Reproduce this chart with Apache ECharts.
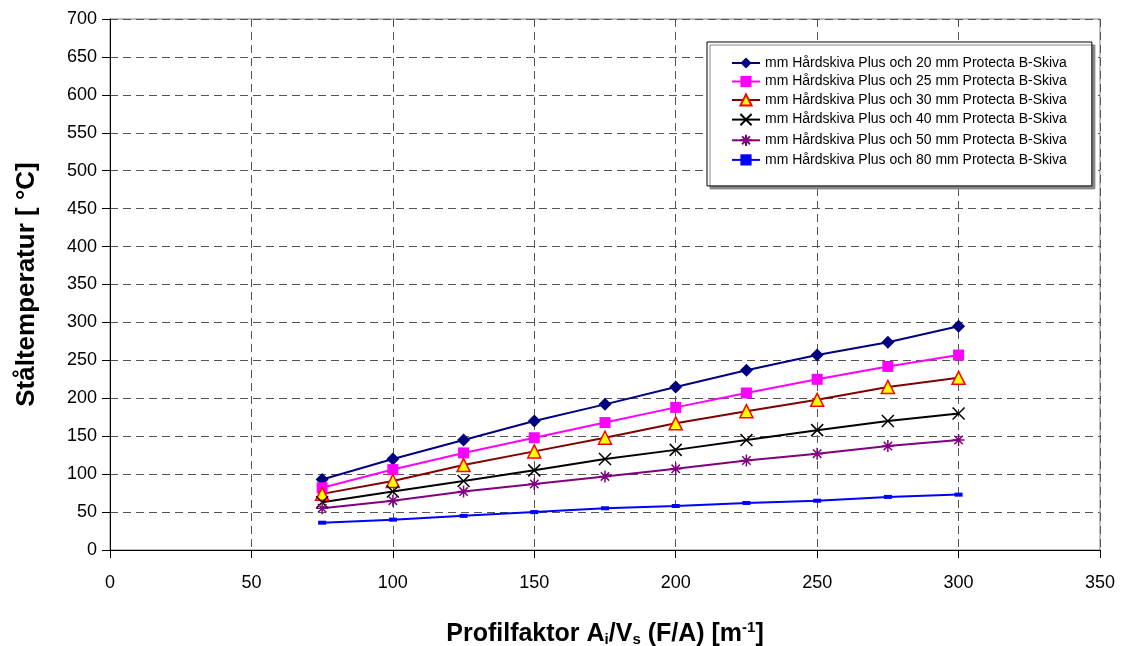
<!DOCTYPE html>
<html>
<head>
<meta charset="utf-8">
<script src="https://cdn.jsdelivr.net/npm/echarts@6/dist/echarts.min.js"></script>
<style>html,body{margin:0;padding:0;background:#fff}#c{width:1123px;height:646px}</style>
</head>
<body>
<div id="c"></div>
<script>
const xValues = [75, 100, 125, 150, 175, 200, 225, 250, 275, 300];
const names = [
  "mm Hårdskiva Plus och 20 mm Protecta B-Skiva",
  "mm Hårdskiva Plus och 25 mm Protecta B-Skiva",
  "mm Hårdskiva Plus och 30 mm Protecta B-Skiva",
  "mm Hårdskiva Plus och 40 mm Protecta B-Skiva",
  "mm Hårdskiva Plus och 50 mm Protecta B-Skiva",
  "mm Hårdskiva Plus och 80 mm Protecta B-Skiva"
];
const s20 = [93, 120, 145, 170, 192, 215, 237, 257, 274, 295];
const s25 = [82, 106, 128, 148, 168, 188, 207, 225, 242, 257];
const s30 = [74, 91, 112, 130, 148, 167, 183, 198, 215, 227];
const s40 = [63, 77, 91, 105, 120, 132, 145, 158, 170, 180];
const s50 = [55, 65, 77, 87, 97, 107, 118, 127, 137, 145];
const s80 = [36, 40, 45, 50, 55, 58, 62, 65, 70, 73];

const pair = arr => xValues.map((x, i) => [x, arr[i]]);
const FONT = 'Liberation Sans, Arial, sans-serif';

const xPath = 'path://M0,0L10,10M10,0L0,10';
const starPath = 'path://M5,0L5,10M0,5L10,5M1.5,1.5L8.5,8.5M8.5,1.5L1.5,8.5';

const chart = echarts.init(document.getElementById('c'), null, {renderer: 'canvas'});
chart.setOption({
  animation: false,
  backgroundColor: '#fff',
  textStyle: {fontFamily: FONT},
  grid: {left: 110, right: 23, top: 19, bottom: 96, show: true, borderColor: '#808080', borderWidth: 1,
         outerBoundsMode: 'none', containLabel: false},
  legend: {
    orient: 'vertical',
    left: 707, top: 42,
    padding: [14, 25, 19, 24],
    itemGap: 4.5,
    itemWidth: 28, itemHeight: 14,
    backgroundColor: '#fff',
    borderColor: '#000', borderWidth: 1,
    shadowColor: '#888', shadowOffsetX: 3, shadowOffsetY: 3, shadowBlur: 0,
    textStyle: {fontSize: 14, color: '#000', fontFamily: FONT},
    data: names
  },
  xAxis: {
    type: 'value', min: 0, max: 350, interval: 50,
    name: '{b|Profilfaktor A}{sub|i}{b|/V}{sub|s}{b| (F/A) [m}{sup|-1}{b|]}',
    nameLocation: 'middle', nameGap: 69,
    nameTextStyle: {
      rich: {
        b: {fontSize: 25, fontWeight: 'bold', color: '#000', fontFamily: FONT, lineHeight: 30},
        sub: {fontSize: 15, fontWeight: 'bold', color: '#000', fontFamily: FONT, lineHeight: 30, padding: [12, 0, 0, 0]},
        sup: {fontSize: 15, fontWeight: 'bold', color: '#000', fontFamily: FONT, lineHeight: 30, padding: [0, 0, 12, 0]}
      }
    },
    axisLine: {lineStyle: {color: '#000', width: 1}},
    axisTick: {inside: false, length: 8, lineStyle: {color: '#000'}},
    axisLabel: {fontSize: 18, color: '#000', margin: 24, fontFamily: FONT},
    splitLine: {show: true, lineStyle: {color: '#555', type: [8, 5], width: 1}}
  },
  yAxis: {
    type: 'value', min: 0, max: 700, interval: 50,
    name: 'Ståltemperatur [ °C]',
    nameLocation: 'middle', nameGap: 70, nameRotate: 90,
    nameTextStyle: {fontSize: 26, fontWeight: 'bold', color: '#000', fontFamily: FONT},
    axisLine: {show: true, lineStyle: {color: '#000', width: 1}},
    axisTick: {show: true, inside: false, length: 8, lineStyle: {color: '#000'}},
    axisLabel: {fontSize: 18, color: '#000', margin: 13, fontFamily: FONT},
    splitLine: {show: true, lineStyle: {color: '#555', type: [8, 5], width: 1}}
  },
  series: [
    {name: names[0], type: 'line', data: pair(s20), symbol: 'diamond', symbolSize: 13,
     lineStyle: {color: '#000080', width: 2}, itemStyle: {color: '#000080'}},
    {name: names[1], type: 'line', data: pair(s25), symbol: 'rect', symbolSize: 11,
     lineStyle: {color: '#FF00FF', width: 2}, itemStyle: {color: '#FF00FF'}},
    {name: names[2], type: 'line', data: pair(s30), symbol: 'triangle', symbolSize: 13,
     lineStyle: {color: '#800000', width: 2}, itemStyle: {color: '#FFFF00', borderColor: '#FF0000', borderWidth: 1.5}},
    {name: names[3], type: 'line', data: pair(s40), symbol: xPath, symbolSize: 12,
     lineStyle: {color: '#000000', width: 2}, itemStyle: {color: 'none', borderColor: '#000000', borderWidth: 1.5}},
    {name: names[4], type: 'line', data: pair(s50), symbol: starPath, symbolSize: 12,
     lineStyle: {color: '#800080', width: 2}, itemStyle: {color: 'none', borderColor: '#800080', borderWidth: 1.5}},
    {name: names[5], type: 'line', data: pair(s80), symbol: 'rect', symbolSize: [8, 4],
     lineStyle: {color: '#0000FF', width: 2}, itemStyle: {color: '#0000FF'}}
  ]
});
</script>
</body>
</html>
